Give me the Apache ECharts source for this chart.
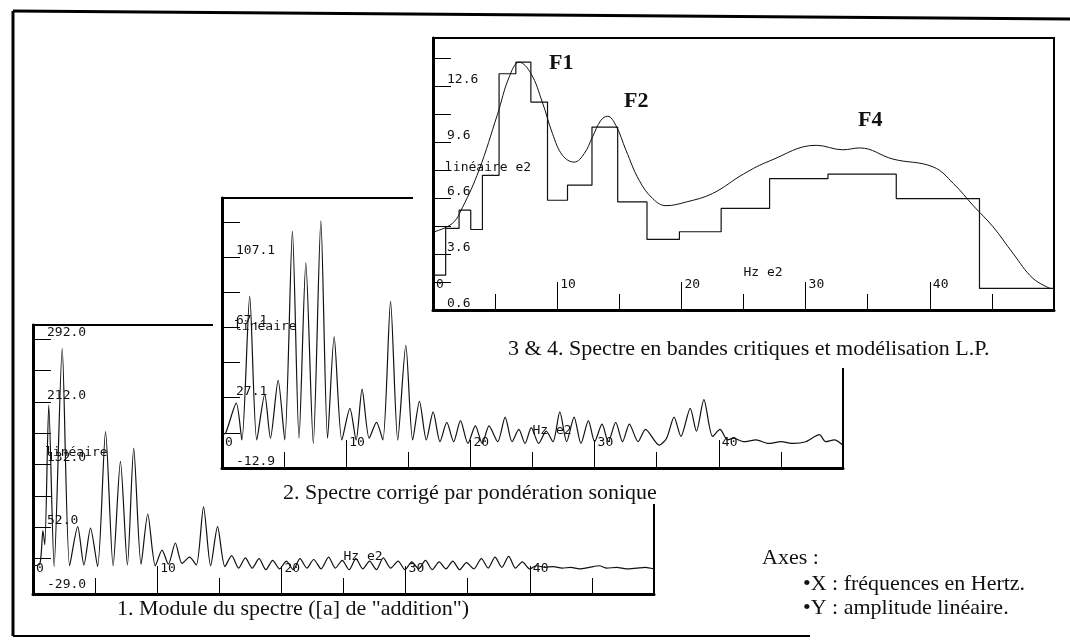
<!DOCTYPE html>
<html>
<head>
<meta charset="utf-8">
<script src="https://cdn.jsdelivr.net/npm/echarts@6/dist/echarts.min.js"></script>
<style>
  html, body { margin: 0; padding: 0; background: #fff; }
  #chart { width: 1070px; height: 643px; }
</style>
</head>
<body>
<div id="chart"></div>
<script>
// x axis: Hz e2 (0..50), ticks every 10 with a short tick every 5
const xLabels = [0, 10, 20, 30, 40]

// 1. Module du spectre
const y1Ticks = [12, 52, 92, 132, 172, 212, 252, 292]
const y1Labels = [-29, 52, 132, 212, 292]
const moduleSpectre = [
  [0.0, 3], [0.55, 5], [0.8, 48], [0.95, 30], [1.27, 208], [1.7, 2],
  [2.35, 280], [2.95, 3], [3.6, 53], [4.1, 4], [4.63, 51], [5.2, 2],
  [5.84, 174], [6.45, 3], [7.04, 136], [7.6, 4], [8.11, 153], [8.7, 5],
  [9.24, 69], [9.85, 3], [10.39, 23], [10.9, 5], [11.46, 32], [12.0, 6],
  [12.6, 14], [13.15, 4], [13.73, 78], [14.3, 3], [14.86, 53], [15.45, 2],
  [16.0, 16], [16.55, 0], [17.1, 13], [17.65, 0], [18.2, 12], [18.75, -2],
  [19.3, 10], [19.85, -1], [20.4, 9], [20.95, -2], [21.5, 12], [22.05, 0],
  [22.6, 11], [23.2, -1], [23.8, 14], [24.35, 0], [24.9, 10], [25.45, -2],
  [26.0, 12], [26.55, -1], [27.1, 9], [27.65, -2], [28.2, 13], [28.8, 0],
  [29.4, 9], [29.95, -2], [30.5, 8], [31.05, -1], [31.6, 10], [32.15, -2],
  [32.7, 8], [33.25, -1], [33.8, 9], [34.35, -2], [34.9, 7], [35.5, -1],
  [36.1, 12], [36.65, 0], [37.2, 14], [37.75, 1], [38.3, 15], [38.85, 0],
  [39.4, 8], [40.0, -1], [40.5, 3], [41.2, 1], [41.9, 2], [42.6, 0],
  [43.3, 1], [44.0, -1], [44.8, 1], [45.6, 3], [46.2, 0], [47.0, 1],
  [47.8, -1], [48.6, 0], [49.3, 1], [50.0, -1]
]

// 2. Spectre corrigé par pondération sonique
const y2Ticks = [7.1, 27.1, 47.1, 67.1, 87.1, 107.1, 127.1]
const y2Labels = [-12.9, 27.1, 67.1, 107.1]
const spectreCorrige = [
  [0.0, 6], [0.3, 7], [1.15, 24], [1.6, 3], [2.23, 85], [2.8, 3],
  [3.44, 29], [3.9, 4], [4.52, 37], [5.05, 3], [5.67, 122], [6.2, 4],
  [6.75, 104], [7.35, 1], [7.96, 128], [8.5, 4], [9.03, 62], [9.65, 3],
  [10.3, 21], [10.8, 3], [11.28, 32], [11.85, 4], [12.44, 13], [12.95, 3],
  [13.57, 82], [14.15, 3], [14.8, 57], [15.35, 3], [15.9, 25], [16.45, 3],
  [17.0, 19], [17.55, 2], [18.1, 13], [18.65, 2], [19.2, 14], [19.8, 1],
  [20.4, 11], [20.95, 1], [21.5, 11], [22.2, 2], [22.8, 16], [23.35, 2],
  [23.9, 9], [24.4, 1], [24.9, 10], [25.5, 1], [26.1, 8], [26.65, 2],
  [27.2, 19], [27.75, 2], [28.35, 16], [28.9, 1], [29.5, 14], [30.0, 2],
  [30.6, 12], [31.1, 2], [31.7, 13], [32.25, 2], [32.8, 12], [33.5, 2],
  [34.1, 9], [35.2, 0], [35.8, 4], [36.4, 16], [36.95, 5], [37.7, 21],
  [38.2, 8], [38.8, 26], [39.5, 5], [40.1, 9], [40.7, 3], [41.2, 4],
  [42.0, 2], [43.0, 3], [44.0, 1], [45.0, 2], [46.0, 1], [47.0, 2],
  [48.1, 6], [48.6, 2], [49.3, 3], [50.0, 0]
]

// 3 & 4. Spectre en bandes critiques et modélisation L.P.
const y3Ticks = [2.1, 3.6, 5.1, 6.6, 8.1, 9.6, 11.1, 12.6, 14.1]
const y3Labels = [0.6, 3.6, 6.6, 9.6, 12.6]
const bandesCritiques = [
  [0, 2.47], [1.02, 4.98], [2.1, 5.96], [3.04, 4.92], [3.98, 7.83],
  [5.32, 13.28], [6.67, 13.9], [7.88, 11.76], [9.22, 6.49], [10.83, 7.3],
  [12.8, 10.42], [14.87, 6.4], [17.23, 4.39], [19.84, 4.8], [23.2, 6.05],
  [27.1, 7.65], [31.8, 7.89], [37.3, 6.58], [44.0, 1.76], [50, 1.76]
]
const modeleLP = [
  [0.1, 4.8], [1.56, 5.25], [2.37, 6.1], [3.7, 8.1], [5.19, 11.1],
  [6.13, 13.1], [6.94, 13.9], [7.88, 13.3], [8.8, 11.76], [9.62, 10.07],
  [10.43, 8.9], [11.37, 8.54], [12.18, 9.0], [12.85, 9.9], [13.52, 10.78],
  [14.06, 11.0], [14.73, 10.5], [15.54, 9.17], [16.6, 7.56], [17.69, 6.58],
  [18.76, 6.2], [20.4, 6.4], [22.5, 6.85], [25.0, 7.9], [27.1, 8.6],
  [30.86, 9.44], [33.0, 9.2], [34.35, 9.3], [37.04, 8.7], [40.27, 8.28],
  [41.9, 7.39], [43.5, 6.2], [45.1, 5.06], [46.7, 3.64], [48.3, 2.3],
  [49.7, 1.76]
]

const MONO = 'DejaVu Sans Mono'
const SERIF = 'Liberation Serif'

const panels = [
  { left: 33, top: 325, width: 621, height: 269, min: -33, max: 310, ticks: y1Ticks, labels: y1Labels, yName: 'linéaire', z: 1 },
  { left: 222, top: 198, width: 621, height: 270, min: -13, max: 141, ticks: y2Ticks, labels: y2Labels, yName: 'linéaire', z: 11 },
  { left: 433, top: 38, width: 621, height: 272, min: 0.6, max: 15.2, ticks: y3Ticks, labels: y3Labels, yName: 'linéaire e2', z: 21 },
]

const grid = panels.map((p) => ({
  left: p.left, top: p.top, width: p.width, height: p.height,
  show: true, borderColor: '#000', borderWidth: 2, backgroundColor: 'transparent',
  z: p.z, outerBoundsMode: 'none', containLabel: false,
}))

const xAxis = panels.map((p, i) => ({
  type: 'value', gridIndex: i, min: 0, max: 50, interval: 10, z: p.z,
  axisLine: { show: true, onZero: false, lineStyle: { color: '#000', width: 3 } },
  axisTick: { show: true, inside: true, length: 28, lineStyle: { color: '#000', width: 1 } },
  minorTick: { show: true, splitNumber: 2, length: 16, lineStyle: { color: '#000', width: 1 } },
  axisLabel: {
    inside: true, customValues: xLabels, margin: 25, align: 'left', verticalAlign: 'middle',
    padding: [0, 0, 0, 3], fontFamily: MONO, fontSize: 13, color: '#111',
  },
  splitLine: { show: false },
  name: 'Hz e2', nameLocation: 'middle', nameGap: -37, nameMoveOverlap: false,
  nameTextStyle: { align: 'left', verticalAlign: 'middle', fontFamily: MONO, fontSize: 13, color: '#111' },
}))

const yAxis = panels.map((p, i) => ({
  type: 'value', gridIndex: i, min: p.min, max: p.max, z: p.z,
  axisLine: { show: true, lineStyle: { color: '#000', width: 3 } },
  axisTick: { show: true, inside: true, length: 18, customValues: p.ticks, lineStyle: { color: '#000', width: 1 } },
  axisLabel: {
    inside: true, customValues: p.labels, margin: 14, align: 'left', verticalAlign: 'bottom',
    fontFamily: MONO, fontSize: 13, color: '#111', formatter: (v) => v.toFixed(1),
  },
  splitLine: { show: false },
  name: p.yName, nameLocation: 'middle', nameRotate: 0, nameGap: -12, nameMoveOverlap: false,
  nameTextStyle: { align: 'left', verticalAlign: 'bottom', fontFamily: MONO, fontSize: 13, color: '#111' },
}))

const traceStyle = { color: '#111', width: 1.2 }

const series = [
  {
    name: 'Module du spectre', type: 'line', xAxisIndex: 0, yAxisIndex: 0, z: 3,
    data: moduleSpectre, smooth: 0.25, symbol: 'none', lineStyle: traceStyle,
  },
  {
    name: 'Spectre corrigé', type: 'line', xAxisIndex: 1, yAxisIndex: 1, z: 13,
    data: spectreCorrige, smooth: 0.25, symbol: 'none', lineStyle: traceStyle,
  },
  {
    name: 'Bandes critiques', type: 'line', xAxisIndex: 2, yAxisIndex: 2, z: 23,
    data: bandesCritiques, step: 'end', symbol: 'none', lineStyle: traceStyle,
  },
  {
    name: 'Modélisation L.P.', type: 'line', xAxisIndex: 2, yAxisIndex: 2, z: 23,
    data: modeleLP, smooth: 0.4, symbol: 'none', lineStyle: { color: '#111', width: 1 },
  },
]

const captionStyle = { fontFamily: SERIF, fontSize: 22, fill: '#111' }
const text = (x, y, t, extra) => ({
  type: 'text', x, y, z: 30,
  style: Object.assign({ text: t, textVerticalAlign: 'middle' }, captionStyle, extra || {}),
})

const graphic = [
  // outer frame
  { type: 'line', z: 0, shape: { x1: 13, y1: 11, x2: 1070, y2: 19 }, style: { stroke: '#000', lineWidth: 3 } },
  { type: 'line', z: 0, shape: { x1: 13, y1: 11, x2: 13, y2: 636 }, style: { stroke: '#000', lineWidth: 3 } },
  { type: 'line', z: 0, shape: { x1: 13, y1: 636, x2: 810, y2: 636 }, style: { stroke: '#000', lineWidth: 2 } },
  // white cards under panel 2 and panel 3
  { type: 'rect', z: 10, shape: { x: 213, y: 188, width: 640, height: 316 }, style: { fill: '#fff' } },
  { type: 'rect', z: 20, shape: { x: 413, y: 27, width: 655, height: 341 }, style: { fill: '#fff' } },
  // formant labels
  text(549, 63, 'F1', { fontWeight: 'bold', fontSize: 22 }),
  text(624, 101, 'F2', { fontWeight: 'bold', fontSize: 22 }),
  text(858, 120, 'F4', { fontWeight: 'bold', fontSize: 22 }),
  // captions
  text(508, 349, '3 & 4. Spectre en bandes critiques et modélisation L.P.'),
  text(283, 493, '2. Spectre corrigé par pondération sonique'),
  text(117, 609, '1. Module du spectre ([a] de "addition")'),
  text(762, 558, 'Axes :'),
  text(803, 584, '•X : fréquences en Hertz.'),
  text(803, 608, '•Y : amplitude linéaire.'),
]

const chart = echarts.init(document.getElementById('chart'))
chart.setOption({
  animation: false,
  backgroundColor: '#fff',
  grid,
  xAxis,
  yAxis,
  series,
  graphic,
})
</script>
</body>
</html>
